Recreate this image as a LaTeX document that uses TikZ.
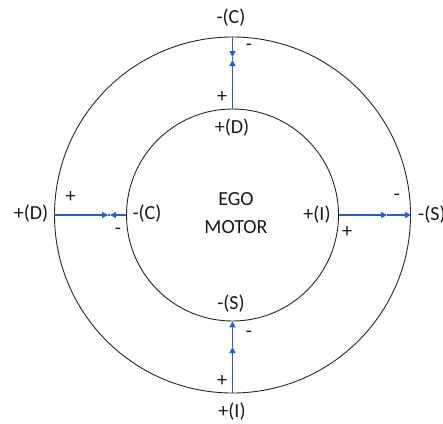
\documentclass[tikz,border=0pt]{standalone}
\usepackage{fontspec}
\setmainfont{Carlito}
\usetikzlibrary{arrows.meta}
\definecolor{conblue}{HTML}{1F5FD8}
\tikzset{
  ring/.style={circle, draw=black!85, line width=0.9pt, inner sep=0pt},
  lbl/.style={font=\fontsize{20}{22}\selectfont, inner sep=0pt, text=black!90},
  conn/.style={draw=conblue, line width=1.2pt},
  tip/.style={-{Triangle[length=6pt,width=6pt]}},
}
\begin{document}
\begin{tikzpicture}[x=1pt,y=-1pt]
\useasboundingbox (0,0) rectangle (443,423);
\node[ring, minimum size=356pt] (outer) at (232.5,215) {};
\node[ring, minimum size=212pt] (inner) at (232.5,215) {};
% mid coordinates
\coordinate (tA) at (232.5,57);
\coordinate (tB) at (232.5,60);
\coordinate (lA) at (108,215);
\coordinate (lB) at (110,215);
\coordinate (rA) at (387,215);
\coordinate (bA) at (232.5,347);
% connectors
\draw[conn,tip] (outer.north) -- (tA);
\draw[conn,tip] (inner.north) -- (tB);
\draw[conn] (tA) -- (tB);
\draw[conn,tip] (outer.west) -- (lA);
\draw[conn,tip] (inner.west) -- (lB);
\draw[conn] (lA) -- (lB);
\draw[conn,tip] (inner.east) -- (rA);
\draw[conn,tip] (rA) -- (outer.east);
\draw[conn,tip] (outer.south) -- (bA);
\draw[conn,tip] (bA) -- (inner.south);
% labels
\node[lbl] (ego) at (236,199) {EGO};
\node[lbl] (motor) at (236,227) {MOTOR};
\node[lbl] (topC) at (231,18) {-(C)};
\node[lbl] (topm) at (249,47) {-};
\node[lbl] (topp) at (222,97) {+};
\node[lbl] (topD) at (232,128) {+(D)};
\node[lbl] (leftD) at (31,214) {+(D)};
\node[lbl] (leftp) at (70.5,197) {+};
\node[lbl] (leftm) at (118,231) {-};
\node[lbl] (leftC) at (147,214) {-(C)};
\node[lbl] (rightI) at (317,215) {+(I)};
\node[lbl] (rightp) at (347,232) {+};
\node[lbl] (rightm) at (397,197) {-};
\node[lbl, anchor=west] (rightS) at (418,215) {-(S)};
\node[lbl] (botS) at (231,304) {-(S)};
\node[lbl] (botm) at (249,334) {-};
\node[lbl] (botp) at (222,381) {+};
\node[lbl] (botI) at (232,412) {+(I)};
\end{tikzpicture}
\end{document}
